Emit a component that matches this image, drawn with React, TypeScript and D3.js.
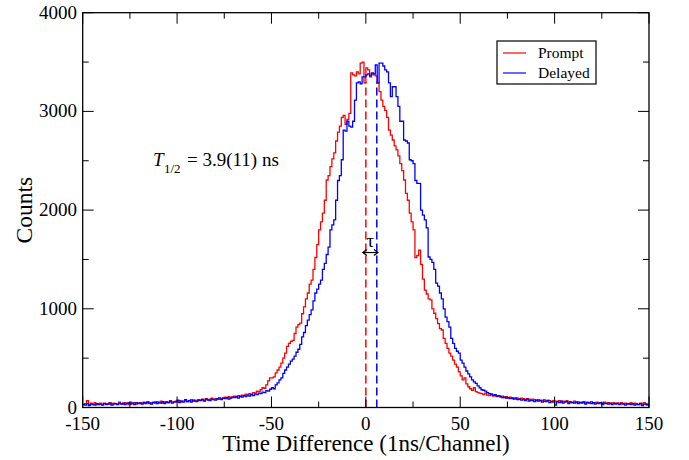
import React from "react";
import * as d3 from "d3";

const X_START = -150;

const promptCounts = [
  35, 40, 70, 30, 45, 35, 50, 30, 40, 45,
  30, 45, 40, 35, 50, 30, 45, 40, 35, 55,
  40, 35, 50, 45, 30, 55, 40, 50, 35, 45,
  50, 40, 55, 45, 60, 40, 50, 55, 45, 60,
  50, 65, 45, 55, 60, 50, 70, 55, 60, 65,
  55, 70, 60, 65, 75, 60, 70, 80, 65, 75,
  70, 80, 75, 85, 70, 90, 80, 85, 95, 80,
  90, 85, 100, 90, 95, 105, 95, 110, 100, 105,
  115, 105, 120, 110, 125, 120, 135, 125, 140, 135,
  150, 145, 165, 160, 180, 200, 195, 230, 270, 300,
  300, 310, 350, 380, 410, 450, 500, 550, 620, 650,
  670, 680, 750, 815, 840, 855, 950, 1020, 1100, 1160,
  1250, 1290, 1400, 1520, 1650, 1800, 1880, 1970, 2100, 2305,
  2350, 2440, 2520, 2580, 2700, 2790, 2850, 2940, 2960, 2870,
  2920, 2980, 3390, 3370, 3360, 3400, 3380, 3490, 3500, 3290,
  3440, 3420, 3350, 3380, 3370, 3360, 3290, 3200, 3115, 3050,
  3010, 2940, 2810, 2760, 2710, 2650, 2610, 2550, 2470, 2400,
  2305, 2170, 2100, 1970, 1880, 1800, 1520, 1540, 1595, 1450,
  1300, 1190, 1150, 1100, 1090, 1000, 955, 900, 850, 800,
  785, 700, 650, 600, 550, 520, 480, 440, 410, 360,
  320, 280, 300, 240, 210, 190, 175, 200, 160, 150,
  145,
  140, 130, 145, 125, 120, 135, 115, 125, 110, 120,
  105, 115, 100, 110, 95, 105, 100, 90, 100, 95,
  85, 95, 90, 80, 90, 85, 75, 85, 80, 70,
  80, 75, 70, 80, 65, 75, 70, 60, 70, 65,
  60, 70, 55, 65, 60, 70, 55, 60, 50, 65,
  55, 60, 50, 55, 60, 45, 55, 50, 60, 45,
  50, 55, 45, 50, 40, 55, 45, 50, 40, 45,
  50, 40, 45, 35, 50, 40, 45, 35, 40, 50,
  35, 45, 40, 30, 45, 35, 50, 40, 35,
];

const delayedCounts = [
  30, 25, 40, 20, 35, 30, 25, 40, 30, 35,
  25, 40, 30, 35, 45, 25, 35, 40, 30, 45,
  35, 45, 30, 40, 50, 35, 45, 30, 50, 40,
  45, 35, 50, 40, 55, 45, 35, 50, 55, 40,
  50, 45, 60, 40, 55, 50, 65, 45, 55, 60,
  75, 50, 65, 55, 80, 60, 70, 55, 75, 65,
  60, 75, 70, 80, 65, 85, 75, 70, 85, 80,
  75, 90, 85, 80, 95, 90, 100, 85, 95, 105,
  100, 110, 95, 115, 105, 120, 110, 125, 115, 130,
  120, 135, 130, 145, 140, 155, 150, 170, 165, 185,
  200, 190, 230, 250, 280, 300, 345, 380, 410, 440,
  470, 490, 520, 560, 590, 640, 715, 760, 830, 885,
  940, 990, 1080, 1160, 1200, 1250, 1290, 1400, 1460, 1550,
  1625, 1800, 1850, 1900, 2100, 2300, 2350, 2510, 2810, 2800,
  2900, 2850, 2840, 2900, 3115, 3290, 3300, 3280, 3350, 3350,
  3370, 3380, 3360, 3390, 3380, 3470, 3290, 3490, 3490, 3460,
  3420, 3400, 3290, 3150, 3250, 3250, 3150, 3050, 2900, 2900,
  2710, 2700, 2680, 2510, 2500, 2470, 2300, 2270, 2270, 2000,
  1950, 1900, 1820, 1525, 1500, 1470, 1400, 1260, 1230, 1160,
  1100, 1000, 915, 870, 815, 700, 650, 600, 570, 550,
  480, 450, 410, 370, 340, 310, 280, 260, 245, 220,
  200,
  180, 175, 165, 150, 140, 135, 125, 130, 115, 120,
  110, 100, 105, 95, 100, 90, 95, 85, 90, 80,
  85, 75, 80, 70, 85, 65, 75, 70, 60, 75,
  65, 70, 55, 65, 60, 70, 50, 60, 55, 25,
  60, 50, 65, 45, 55, 60, 40, 55, 50, 45,
  55, 40, 50, 45, 55, 35, 50, 45, 40, 50,
  35, 45, 40, 50, 30, 45, 40, 35, 45, 30,
  40, 35, 45, 30, 40, 35, 25, 40, 35, 30,
  40, 25, 35, 30, 40, 20, 35, 30, 25,
];

const xTicks = [-150, -100, -50, 0, 50, 100, 150];
const xMinorTicks = [-125, -75, -25, 25, 75, 125];
const yTicks = [0, 1000, 2000, 3000, 4000];
const yMinorTicks = [500, 1500, 2500, 3500];
const seriesNames = ["Prompt", "Delayed"];
const seriesColors = ["#ff0000", "#0000ff"];
const centroids = [0, 5.8];
const markerTop = 3300;
const arrowRange = [-1.6, 6.4];
const arrowLevel = 1570;

const W = 689;
const H = 460;
const L = 82.7;
const R = 649;
const T = 12.7;
const B = 407.5;
const FONT = "'Liberation Serif', 'Times New Roman', serif";

export default function App() {
  const x = d3.scaleLinear().domain([-150, 150]).range([L, R]);
  const y = d3.scaleLinear().domain([0, 4000]).range([B, T]);

  const stepPath = (counts: number[]) => {
    const pts: [number, number][] = counts.map((c, i) => [X_START + i, c]);
    pts.push([X_START + counts.length, counts[counts.length - 1]]);
    return d3
      .line<[number, number]>()
      .x((d) => x(d[0]))
      .y((d) => y(d[1]))
      .curve(d3.curveStepAfter)(pts) as string;
  };

  const series = [promptCounts, delayedCounts];
  const ay = y(arrowLevel);
  const ax0 = x(arrowRange[0]);
  const ax1 = x(arrowRange[1]);

  return (
    <svg
      width={W}
      height={H}
      style={{ position: "absolute", left: 0, top: 0, background: "#fff" }}
      fontFamily={FONT}
    >
      <rect x={0} y={0} width={W} height={H} fill="#fff" />
      {centroids.map((c, i) => (
        <line
          key={"c" + i}
          x1={x(c)}
          x2={x(c)}
          y1={y(0)}
          y2={y(markerTop)}
          stroke={seriesColors[i]}
          strokeWidth={1.5}
          strokeDasharray="8,4"
        />
      ))}
      {series.map((s, i) => (
        <path
          key={"s" + i}
          d={stepPath(s)}
          fill="none"
          stroke={seriesColors[i]}
          strokeWidth={1.3}
        />
      ))}
      <rect x={L} y={T} width={R - L} height={B - T} fill="none" stroke="#000" strokeWidth={1.3} />
      {xTicks.map((t) => (
        <g key={"xt" + t}>
          <line x1={x(t)} x2={x(t)} y1={B} y2={B - 11} stroke="#000" strokeWidth={1} />
          <line x1={x(t)} x2={x(t)} y1={T} y2={T + 11} stroke="#000" strokeWidth={1} />
          <text x={x(t)} y={430} textAnchor="middle" fontSize={19} fill="#000">
            {t}
          </text>
        </g>
      ))}
      {xMinorTicks.map((t) => (
        <g key={"xm" + t}>
          <line x1={x(t)} x2={x(t)} y1={B} y2={B - 6} stroke="#000" strokeWidth={1} />
          <line x1={x(t)} x2={x(t)} y1={T} y2={T + 6} stroke="#000" strokeWidth={1} />
        </g>
      ))}
      {yTicks.map((t) => (
        <g key={"yt" + t}>
          <line x1={L} x2={L + 11} y1={y(t)} y2={y(t)} stroke="#000" strokeWidth={1} />
          <line x1={R} x2={R - 11} y1={y(t)} y2={y(t)} stroke="#000" strokeWidth={1} />
          <text x={77} y={y(t) + 6} textAnchor="end" fontSize={19} fill="#000">
            {t}
          </text>
        </g>
      ))}
      {yMinorTicks.map((t) => (
        <g key={"ym" + t}>
          <line x1={L} x2={L + 6} y1={y(t)} y2={y(t)} stroke="#000" strokeWidth={1} />
          <line x1={R} x2={R - 6} y1={y(t)} y2={y(t)} stroke="#000" strokeWidth={1} />
        </g>
      ))}
      <text x={(L + R) / 2} y={451} textAnchor="middle" fontSize={23} fill="#000">
        Time Difference (1ns/Channel)
      </text>
      <text
        transform={`translate(32, ${(T + B) / 2}) rotate(-90)`}
        textAnchor="middle"
        fontSize={23.5}
        fill="#000"
      >
        Counts
      </text>
      <text y={166} fontSize={19} fill="#000">
        <tspan x={153} fontStyle="italic">T</tspan>
        <tspan x={164} y={173} fontSize={13}>1/2</tspan>
        <tspan x={187} y={166}>= 3.9(11) ns</tspan>
      </text>
      <text x={(ax0 + ax1) / 2} y={247} textAnchor="middle" fontSize={19} fill="#000">
        τ
      </text>
      <line x1={ax0} x2={ax1} y1={ay} y2={ay} stroke="#000" strokeWidth={1.2} />
      <path
        d={`M${ax0 + 4},${ay - 3} L${ax0},${ay} L${ax0 + 4},${ay + 3} M${ax1 - 4},${ay - 3} L${ax1},${ay} L${ax1 - 4},${ay + 3}`}
        fill="none"
        stroke="#000"
        strokeWidth={1.2}
      />
      <rect x={497} y={41} width={99} height={43} fill="#fff" stroke="#000" strokeWidth={1.2} />
      {seriesNames.map((n, i) => (
        <g key={"lg" + i}>
          <line
            x1={503}
            x2={526}
            y1={53 + i * 20}
            y2={53 + i * 20}
            stroke={seriesColors[i]}
            strokeWidth={1.2}
          />
          <text x={538} y={57.5 + i * 20} fontSize={15.5} fill="#000">
            {n}
          </text>
        </g>
      ))}
    </svg>
  );
}
